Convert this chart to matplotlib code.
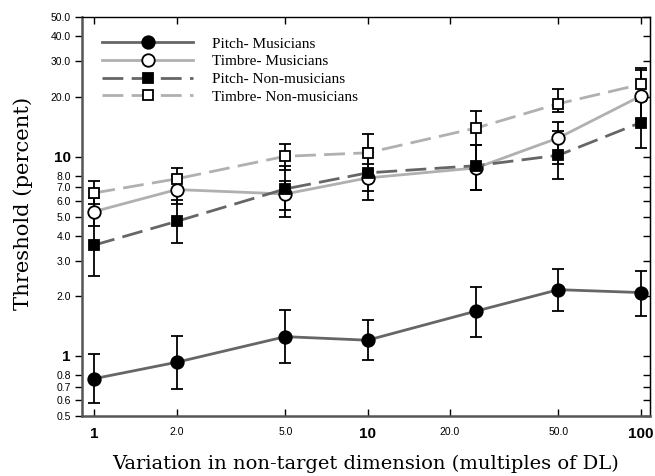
import matplotlib
matplotlib.use("Agg")
import matplotlib.pyplot as plt
from matplotlib.ticker import NullLocator

# variation in non-target dimension (multiples of DL)
variation = [1, 2, 5, 10, 25, 50, 100]

pitch_mus = [0.77, 0.93, 1.25, 1.20, 1.68, 2.15, 2.08]
pitch_mus_lo = [0.58, 0.68, 0.92, 0.955, 1.25, 1.68, 1.59]
pitch_mus_hi = [1.02, 1.265, 1.70, 1.52, 2.21, 2.74, 2.68]

timbre_mus = [5.3, 6.83, 6.49, 7.81, 8.77, 12.4, 20.1]
timbre_mus_lo = [4.47, 5.8, 5.42, 6.69, 6.83, 9.2, 15.5]
timbre_mus_hi = [6.2, 8.0, 7.5, 9.2, 11.4, 14.9, 27.2]

pitch_nm = [3.6, 4.73, 6.88, 8.28, 9.0, 10.15, 14.8]
pitch_nm_lo = [2.53, 3.68, 5.0, 6.03, 6.83, 7.73, 11.1]
pitch_nm_hi = [5.1, 6.08, 9.0, 11.0, 11.4, 13.4, 19.7]

timbre_nm = [6.57, 7.73, 10.03, 10.44, 13.9, 18.4, 23.0]
timbre_nm_lo = [5.75, 6.8, 8.6, 8.45, 11.4, 16.8, 19.0]
timbre_nm_hi = [7.51, 8.77, 11.6, 12.9, 16.9, 21.9, 27.9]

x_ticks = [1, 2, 5, 10, 20, 50, 100]
x_labels = ["1", "2.0", "5.0", "10", "20.0", "50.0", "100"]
y_ticks = [0.5, 0.6, 0.7, 0.8, 1, 2, 3, 4, 5, 6, 7, 8, 10, 20, 30, 40, 50]
y_labels = ["0.5", "0.6", "0.7", "0.8", "1", "2.0", "3.0", "4.0", "5.0",
            "6.0", "7.0", "8.0", "10", "20.0", "30.0", "40.0", "50.0"]
bold_labels = {"1", "10", "100"}

DARK = "#666666"
LIGHT = "#b0b0b0"

series = [
    ("Pitch- Musicians", pitch_mus, pitch_mus_lo, pitch_mus_hi, DARK, "-", "o", "black"),
    ("Timbre- Musicians", timbre_mus, timbre_mus_lo, timbre_mus_hi, LIGHT, "-", "o", "white"),
    ("Pitch- Non-musicians", pitch_nm, pitch_nm_lo, pitch_nm_hi, DARK, "--", "s", "black"),
    ("Timbre- Non-musicians", timbre_nm, timbre_nm_lo, timbre_nm_hi, LIGHT, "--", "s", "white"),
]

fig = plt.figure(figsize=(6.55, 4.76), dpi=100)
ax = fig.add_axes([0.125, 0.126, 0.867, 0.838])

for label, y, lo, hi, color, style, marker, face in series:
    yerr = [[v - l for v, l in zip(y, lo)], [h - v for v, h in zip(y, hi)]]
    ax.errorbar(variation, y, yerr=yerr, fmt="none", ecolor="black",
                elinewidth=1.3, capsize=4.3, capthick=1.3, zorder=2)
    line, = ax.plot(variation, y, linestyle=style, color=color, linewidth=2.0,
                    marker=marker, markersize=9 if marker == "o" else 7.5,
                    markerfacecolor=face, markeredgecolor="black",
                    markeredgewidth=1.3, label=label, zorder=3)
    if style == "--":
        line.set_dashes((7.5, 3.0))

ax.set_xscale("log")
ax.set_yscale("log")
ax.set_xlim(0.9, 108)
ax.set_ylim(0.5, 50)

ax.set_xticks(x_ticks)
ax.set_xticklabels(x_labels)
ax.xaxis.set_minor_locator(NullLocator())
ax.set_yticks(y_ticks)
ax.set_yticklabels(y_labels)
ax.yaxis.set_minor_locator(NullLocator())

for lab in ax.get_xticklabels() + ax.get_yticklabels():
    lab.set_family("Liberation Sans")
    if lab.get_text() in bold_labels:
        lab.set_fontsize(11)
        lab.set_fontweight("bold")
    else:
        lab.set_fontsize(7.5)

ax.tick_params(axis="x", which="both", direction="in", top=True, length=5,
               width=1, pad=8)
ax.tick_params(axis="y", which="both", direction="out", length=5, width=1, pad=3)

right = ax.secondary_yaxis("right")
right.set_yticks(y_ticks)
right.yaxis.set_minor_locator(NullLocator())
right.tick_params(direction="in", length=5, width=1, labelright=False)

for side in ("left", "bottom"):
    ax.spines[side].set_color("#555555")
    ax.spines[side].set_linewidth(1.8)
ax.spines["top"].set_linewidth(1.0)
ax.spines["right"].set_linewidth(1.0)

ax.set_xlabel("Variation in non-target dimension (multiples of DL)",
              family="DejaVu Serif", fontsize=14.0, labelpad=10)
ax.set_ylabel("Threshold (percent)", family="DejaVu Serif", fontsize=15.2)
ax.yaxis.set_label_coords(-0.086, 0.533)

ax.legend(loc="upper left", frameon=False, handlelength=6.0, numpoints=1,
          handletextpad=1.25, labelspacing=0.26, borderaxespad=0.9,
          prop={"family": "Liberation Serif", "size": 11})

fig.savefig("out.png", dpi=100)
